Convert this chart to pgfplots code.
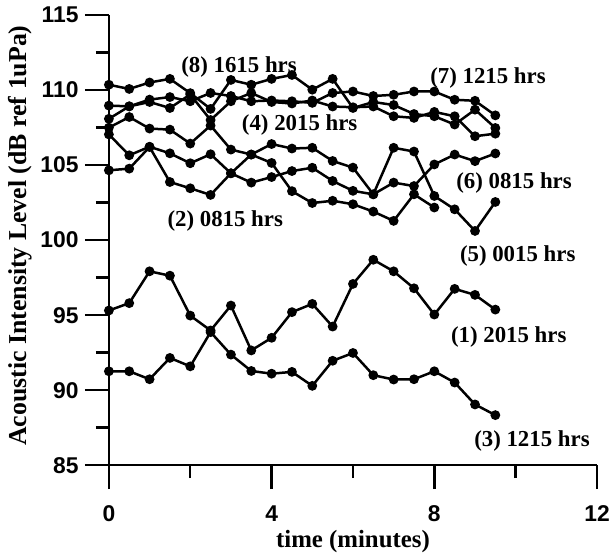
\documentclass[border=0pt]{standalone}
\usepackage{fontspec}
\setmainfont{Liberation Serif}
\setsansfont{Liberation Sans}
\usepackage{pgfplots}
\pgfplotsset{compat=1.18}

\pgfplotsset{ser/.style={black, solid, line width=2.5bp, mark=*, mark size=3.6bp, mark options={solid, fill=black}}}

\begin{document}
\begin{tikzpicture}
\begin{axis}[
    at={(0,0)}, anchor=south west,
    scale only axis,
    width=490bp, height=452bp,
    xmin=0, xmax=12, ymin=85, ymax=115,
    axis lines=left,
    axis line style={-, line width=2.5bp, black},
    xtick={0,4,8,12},
    minor xtick={2,6,10},
    ytick={85,90,...,115},
    minor ytick={87.5,92.5,...,112.5},
    tick align=outside,
    tickwidth=24bp,
    subtickwidth=13bp,
    major tick style={draw=black, line width=2.5bp},
    minor tick style={draw=black, line width=2.5bp},
    /pgf/number format/assume math mode=true,
    ticklabel style={font=\fontsize{23}{23}\selectfont\sffamily\bfseries},
    xticklabel style={yshift=-13bp},
    yticklabel style={xshift=-3bp},
    xlabel={time (minutes)},
    ylabel={Acoustic Intensity Level (dB ref 1uPa)},
    xlabel style={at={(axis description cs:0.5,-0.170)}, anchor=center,
                  font=\fontsize{25}{25}\selectfont\bfseries},
    ylabel style={at={(axis description cs:-0.182,0.51)}, anchor=center,
                  font=\fontsize{26}{26}\selectfont\bfseries},
    clip=false,
    extra description/.code={
        \foreach \xx in {0,4,8,12} {\draw[line width=2.5bp] (axis cs:\xx,85) -- ++(0,-24bp);}
        \foreach \xx in {2,6,10} {\draw[line width=2.5bp] (axis cs:\xx,85) -- ++(0,-13bp);}
        \foreach \yy in {85,90,...,115} {\draw[line width=2.5bp] (axis cs:0,\yy) -- ++(-24bp,0);}
        \foreach \yy in {87.5,92.5,...,112.5} {\draw[line width=2.5bp] (axis cs:0,\yy) -- ++(-13bp,0);}
    },
]
% (1) 2015 hrs
\addplot[ser] coordinates {(0,95.31)(0.5,95.80)(1,97.92)(1.5,97.63)(2,94.97)(2.5,93.98)(3,95.64)(3.5,92.65)(4,93.49)(4.5,95.20)
 (5,95.75)(5.5,94.24)(6,97.08)(6.5,98.69)(7,97.92)(7.5,96.79)(8,95.04)(8.5,96.75)(9,96.35)(9.5,95.37)};
% (3) 1215 hrs
\addplot[ser] coordinates {(0,91.26)(0.5,91.26)(1,90.73)(1.5,92.15)(2,91.59)(2.5,93.87)(3,92.37)(3.5,91.28)(4,91.10)(4.5,91.22)
 (5,90.29)(5.5,91.96)(6,92.48)(6.5,91.00)(7,90.71)(7.5,90.73)(8,91.26)(8.5,90.51)(9,89.05)(9.5,88.34)};
% (8) 1615 hrs
\addplot[ser] coordinates {(0,110.35)(0.5,110.07)(1,110.50)(1.5,110.74)(2,109.79)(2.5,108.74)(3,110.67)(3.5,110.35)(4,110.74)(4.5,111.00)
 (5,110.02)(5.5,110.74)(6,108.80)(6.5,109.20)(7,109.00)(7.5,108.40)(8,108.25)(8.5,107.70)(9,108.69)(9.5,107.47)};
% (7) 1215 hrs
\addplot[ser] coordinates {(0,108.96)(0.5,108.91)(1,109.36)(1.5,109.53)(2,109.25)(2.5,109.80)(3,109.60)(3.5,109.25)(4,109.30)(4.5,109.25)
 (5,109.14)(5.5,109.80)(6,109.90)(6.5,109.60)(7,109.68)(7.5,109.90)(8,109.90)(8.5,109.35)(9,109.28)(9.5,108.31)};
% (4) 2015 hrs
\addplot[ser] coordinates {(0,108.08)(0.5,108.91)(1,109.20)(1.5,108.80)(2,109.70)(2.5,108.00)(3,109.25)(3.5,109.80)(4,109.20)(4.5,109.10)
 (5,109.30)(5.5,108.90)(6,108.85)(6.5,108.90)(7,108.25)(7.5,108.14)(8,108.54)(8.5,108.25)(9,106.92)(9.5,107.09)};
% (2) 0815 hrs
\addplot[ser] coordinates {(0,107.49)(0.5,108.20)(1,107.43)(1.5,107.36)(2,106.43)(2.5,107.63)(3,106.03)(3.5,105.70)(4,105.14)(4.5,103.26)
 (5,102.47)(5.5,102.62)(6,102.39)(6.5,101.90)(7,101.28)(7.5,103.05)(8,102.17)};
% (5) 0015 hrs
\addplot[ser] coordinates {(0,107.04)(0.5,105.65)(1,106.22)(1.5,105.78)(2,105.12)(2.5,105.72)(3,104.45)(3.5,103.83)(4,104.20)(4.5,104.60)
 (5,104.82)(5.5,103.94)(6,103.28)(6.5,103.05)(7,106.15)(7.5,105.90)(8,102.94)(8.5,102.05)(9,100.61)(9.5,102.54)};
% (6) 0815 hrs
\addplot[ser] coordinates {(0,104.65)(0.5,104.76)(1,106.20)(1.5,103.87)(2,103.45)(2.5,103.01)(3,104.45)(3.5,105.70)(4,106.40)(4.5,106.10)
 (5,106.15)(5.5,105.27)(6,104.83)(6.5,103.05)(7,103.83)(7.5,103.60)(8,105.04)(8.5,105.70)(9,105.26)(9.5,105.77)};

\begin{scope}[every node/.style={font=\fontsize{23}{23}\selectfont\bfseries, inner sep=0pt}]
\node at (axis cs:3.2,111.54) {(8) 1615 hrs};
\node at (axis cs:4.69,107.69) {(4) 2015 hrs};
\node at (axis cs:2.86,101.26) {(2) 0815 hrs};
\node at (axis cs:9.32,110.81) {(7) 1215 hrs};
\node at (axis cs:9.96,103.78) {(6) 0815 hrs};
\node at (axis cs:10.05,98.93) {(5) 0015 hrs};
\node at (axis cs:9.83,93.56) {(1) 2015 hrs};
\node at (axis cs:10.4,86.59) {(3) 1215 hrs};
\end{scope}
\end{axis}
\pgfresetboundingbox
\path (-109.3bp,-89bp) rectangle (504bp,467bp);
\end{tikzpicture}
\end{document}
